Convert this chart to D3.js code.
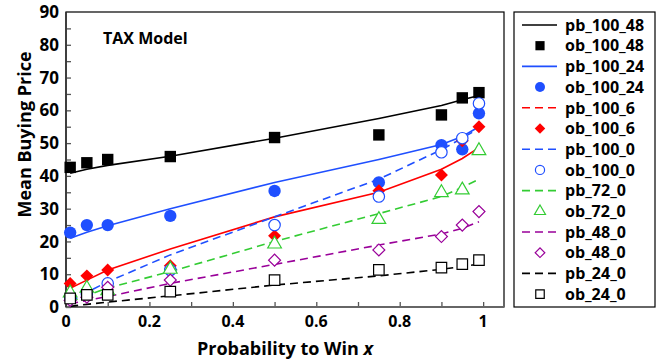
<!DOCTYPE html>
<html>
<head>
<meta charset="utf-8">
<script src="https://cdn.jsdelivr.net/npm/d3@7"></script>
<style>
  body { margin: 0; background: #fff; }
  text { font-family: "Open Sans", sans-serif; font-weight: 700; }
</style>
</head>
<body>
<div id="container"></div>
<script>
/* DATA */
const probs = [0.01, 0.05, 0.1, 0.25, 0.5, 0.75, 0.9, 0.95, 0.99];

const pb_100_48 = [40.8, 42, 43.2, 46, 51.5, 57.5, 61.5, 63.2, 64.5];
const ob_100_48 = [42.6, 44.0, 45.0, 45.9, 51.7, 52.5, 58.6, 63.8, 65.4];
const pb_100_24 = [21, 22.8, 24.8, 30, 38, 45, 49.6, 52, 55];
const ob_100_24 = [22.7, 25.0, 25.0, 27.8, 35.4, 38.0, 49.4, 48.1, 59.1];
const pb_100_6 = [5.7, 8.2, 11.3, 17.7, 27.5, 35, 42, 45.3, 48.6];
const ob_100_6 = [7.2, 9.5, 11.3, 12.6, 21.7, 35.5, 40.3, 50.7, 55.0];
const pb_100_0 = [1.6, 4.5, 7.7, 15.9, 27.5, 39, 48, 51.5, 54.5];
const ob_100_0 = [3.0, 4.0, 7.2, 11.3, 25.0, 33.7, 47.2, 51.5, 62.1];
const pb_72_0 = [1.5, 3.5, 5.8, 10.8, 20, 28.5, 33.7, 36.5, 39];
const ob_72_0 = [4.3, 5.7, 5.0, 11.5, 19.2, 26.7, 34.9, 35.7, 47.7];
const pb_48_0 = [1, 2, 3.2, 7.2, 13, 18.9, 22.3, 24, 26];
const ob_48_0 = [2.0, 3.0, 6.0, 8.2, 14.3, 17.4, 21.5, 25.0, 29.1];
const pb_24_0 = [0.2, 0.8, 1.5, 3.4, 6.7, 9.5, 11.5, 12.3, 13.1];
const ob_24_0 = [2.6, 3.7, 3.7, 4.7, 8.2, 11.3, 12.0, 13.1, 14.3];

const xTicks = [0, 0.2, 0.4, 0.6, 0.8, 1];
const yTicks = [0, 10, 20, 30, 40, 50, 60, 70, 80, 90];

/* SERIES STYLE */
const lines = [
  {name: "pb_100_48", values: pb_100_48, color: "#000000", dash: null, legendDash: null},
  {name: "pb_100_24", values: pb_100_24, color: "#1f4fff", dash: null, legendDash: null},
  {name: "pb_100_6", values: pb_100_6, color: "#ff0000", dash: null, legendDash: "8,5"},
  {name: "pb_100_0", values: pb_100_0, color: "#1f4fff", dash: "8,5", legendDash: "8,5"},
  {name: "pb_72_0", values: pb_72_0, color: "#33cc33", dash: "8,5", legendDash: "8,5"},
  {name: "pb_48_0", values: pb_48_0, color: "#990099", dash: "8,5", legendDash: "8,5"},
  {name: "pb_24_0", values: pb_24_0, color: "#000000", dash: "8,5", legendDash: "8,5"}
];
const points = [
  {name: "ob_100_48", values: ob_100_48, color: "#000000", shape: "square", fill: true},
  {name: "ob_100_24", values: ob_100_24, color: "#1f4fff", shape: "circle", fill: true},
  {name: "ob_100_6", values: ob_100_6, color: "#ff0000", shape: "diamond", fill: true},
  {name: "ob_100_0", values: ob_100_0, color: "#1f4fff", shape: "circle", fill: false},
  {name: "ob_72_0", values: ob_72_0, color: "#33cc33", shape: "triangle", fill: false},
  {name: "ob_48_0", values: ob_48_0, color: "#990099", shape: "diamond", fill: false},
  {name: "ob_24_0", values: ob_24_0, color: "#000000", shape: "square", fill: false}
];

/* LAYOUT */
const width = 661, height = 361;
const margin = {top: 12, left: 66, right: 157, bottom: 54};

const svg = d3.select("#container").append("svg")
  .attr("width", width)
  .attr("height", height);

/* SCALES */
const xScale = d3.scaleLinear().domain([0, 1.05]).range([margin.left, width - margin.right]);
const yScale = d3.scaleLinear().domain([0, 90]).range([height - margin.bottom, margin.top]);

// marker shapes; diamond = square turned 45 degrees
const symbolType = {
  square: d3.symbolSquare,
  circle: d3.symbolCircle,
  diamond: d3.symbolSquare,
  triangle: d3.symbolTriangle
};
const symbolSize = {square: 130, circle: 120, diamond: 84, triangle: 95};
function marker(g, s, cx, cy, scale) {
  const k = s.fill ? 1 : 0.85;
  g.append("path")
    .attr("transform", `translate(${cx},${cy})` + (s.shape === "diamond" ? " rotate(45)" : ""))
    .attr("d", d3.symbol().type(symbolType[s.shape]).size(symbolSize[s.shape] * k * scale)())
    .attr("fill", s.fill ? s.color : "#fff")
    .attr("stroke", s.color)
    .attr("stroke-width", s.fill ? 0 : 1.2);
}

/* FRAME */
svg.append("rect")
  .attr("x", margin.left).attr("y", margin.top)
  .attr("width", width - margin.right - margin.left)
  .attr("height", height - margin.bottom - margin.top)
  .attr("fill", "none").attr("stroke", "#000").attr("stroke-width", 1.2);

// ticks pointing inward
const xAxis = d3.axisTop(xScale).tickValues(d3.range(0, 1.01, 0.1)).tickSize(5).tickFormat("");
svg.append("g")
  .attr("transform", `translate(0,${height - margin.bottom})`)
  .call(xAxis)
  .call(g => g.select(".domain").remove())
  .selectAll("line").attr("stroke", "#555").attr("stroke-width", 1.3);

const yAxis = d3.axisRight(yScale).tickValues(d3.range(0, 90, 5)).tickSize(5).tickFormat("");
svg.append("g")
  .attr("transform", `translate(${margin.left},0)`)
  .call(yAxis)
  .call(g => g.select(".domain").remove())
  .selectAll("line").attr("stroke", "#555").attr("stroke-width", 1.3);

svg.append("line")
  .attr("x1", margin.left).attr("x2", width - margin.right)
  .attr("y1", height - margin.bottom).attr("y2", height - margin.bottom)
  .attr("stroke", "#666").attr("stroke-width", 2.2);
svg.append("line")
  .attr("x1", margin.left).attr("x2", margin.left)
  .attr("y1", margin.top).attr("y2", height - margin.bottom)
  .attr("stroke", "#333").attr("stroke-width", 1.5);

// tick labels
svg.append("g").selectAll("text")
  .data(xTicks)
  .join("text")
  .attr("x", d => xScale(d))
  .attr("y", height - margin.bottom + 20)
  .attr("text-anchor", "middle")
  .style("font-size", "16px")
  .text(d => d === 0 || d === 1 ? d : d.toFixed(1));

svg.append("g").selectAll("text")
  .data(yTicks)
  .join("text")
  .attr("x", margin.left - 7)
  .attr("y", d => yScale(d))
  .attr("dy", "0.36em")
  .attr("text-anchor", "end")
  .style("font-size", "17px")
  .text(d => d);

// axis titles
const xt = svg.append("text")
  .attr("x", 285).attr("y", 355)
  .attr("text-anchor", "middle")
  .style("font-size", "18px")
  .text("Probability to Win ");
xt.append("tspan").style("font-style", "italic").text("x");

svg.append("text")
  .attr("transform", `translate(31,${(margin.top + height - margin.bottom) / 2 - 25}) rotate(-90)`)
  .attr("text-anchor", "middle")
  .style("font-size", "18px")
  .text("Mean Buying Price");

svg.append("text")
  .attr("x", 103).attr("y", 44)
  .style("font-size", "16px")
  .text("TAX Model");

/* MARKS */
const plot = svg.append("g");
const line = d3.line()
  .x((d, i) => xScale(probs[i]))
  .y(d => yScale(d));

lines.forEach(s => {
  plot.append("path")
    .attr("d", line(s.values))
    .attr("fill", "none")
    .attr("stroke", s.color)
    .attr("stroke-width", 1.6)
    .attr("stroke-dasharray", s.dash);
});

points.forEach(s => {
  const g = plot.append("g");
  s.values.forEach((v, i) => marker(g, s, xScale(probs[i]), yScale(v), 1));
});

/* LEGEND */
const lg = svg.append("g");
lg.append("rect")
  .attr("x", 514).attr("y", 12)
  .attr("width", 141).attr("height", 295)
  .attr("fill", "#fff").attr("stroke", "#000").attr("stroke-width", 1.2);

const legendItems = [];
lines.forEach((l, i) => {
  legendItems.push({type: "line", s: l});
  legendItems.push({type: "point", s: points[i]});
});

legendItems.forEach((item, i) => {
  const y = 25 + i * 20.7;
  if (item.type === "line") {
    lg.append("line")
      .attr("x1", 522).attr("x2", 557)
      .attr("y1", y).attr("y2", y)
      .attr("stroke", item.s.color)
      .attr("stroke-width", 1.6)
      .attr("stroke-dasharray", item.s.legendDash);
  } else {
    marker(lg, item.s, 540, y, 0.65);
  }
  lg.append("text")
    .attr("x", 565).attr("y", y)
    .attr("dy", "0.36em")
    .style("font-size", "16px")
    .text(item.s.name);
});
</script>
</body>
</html>
